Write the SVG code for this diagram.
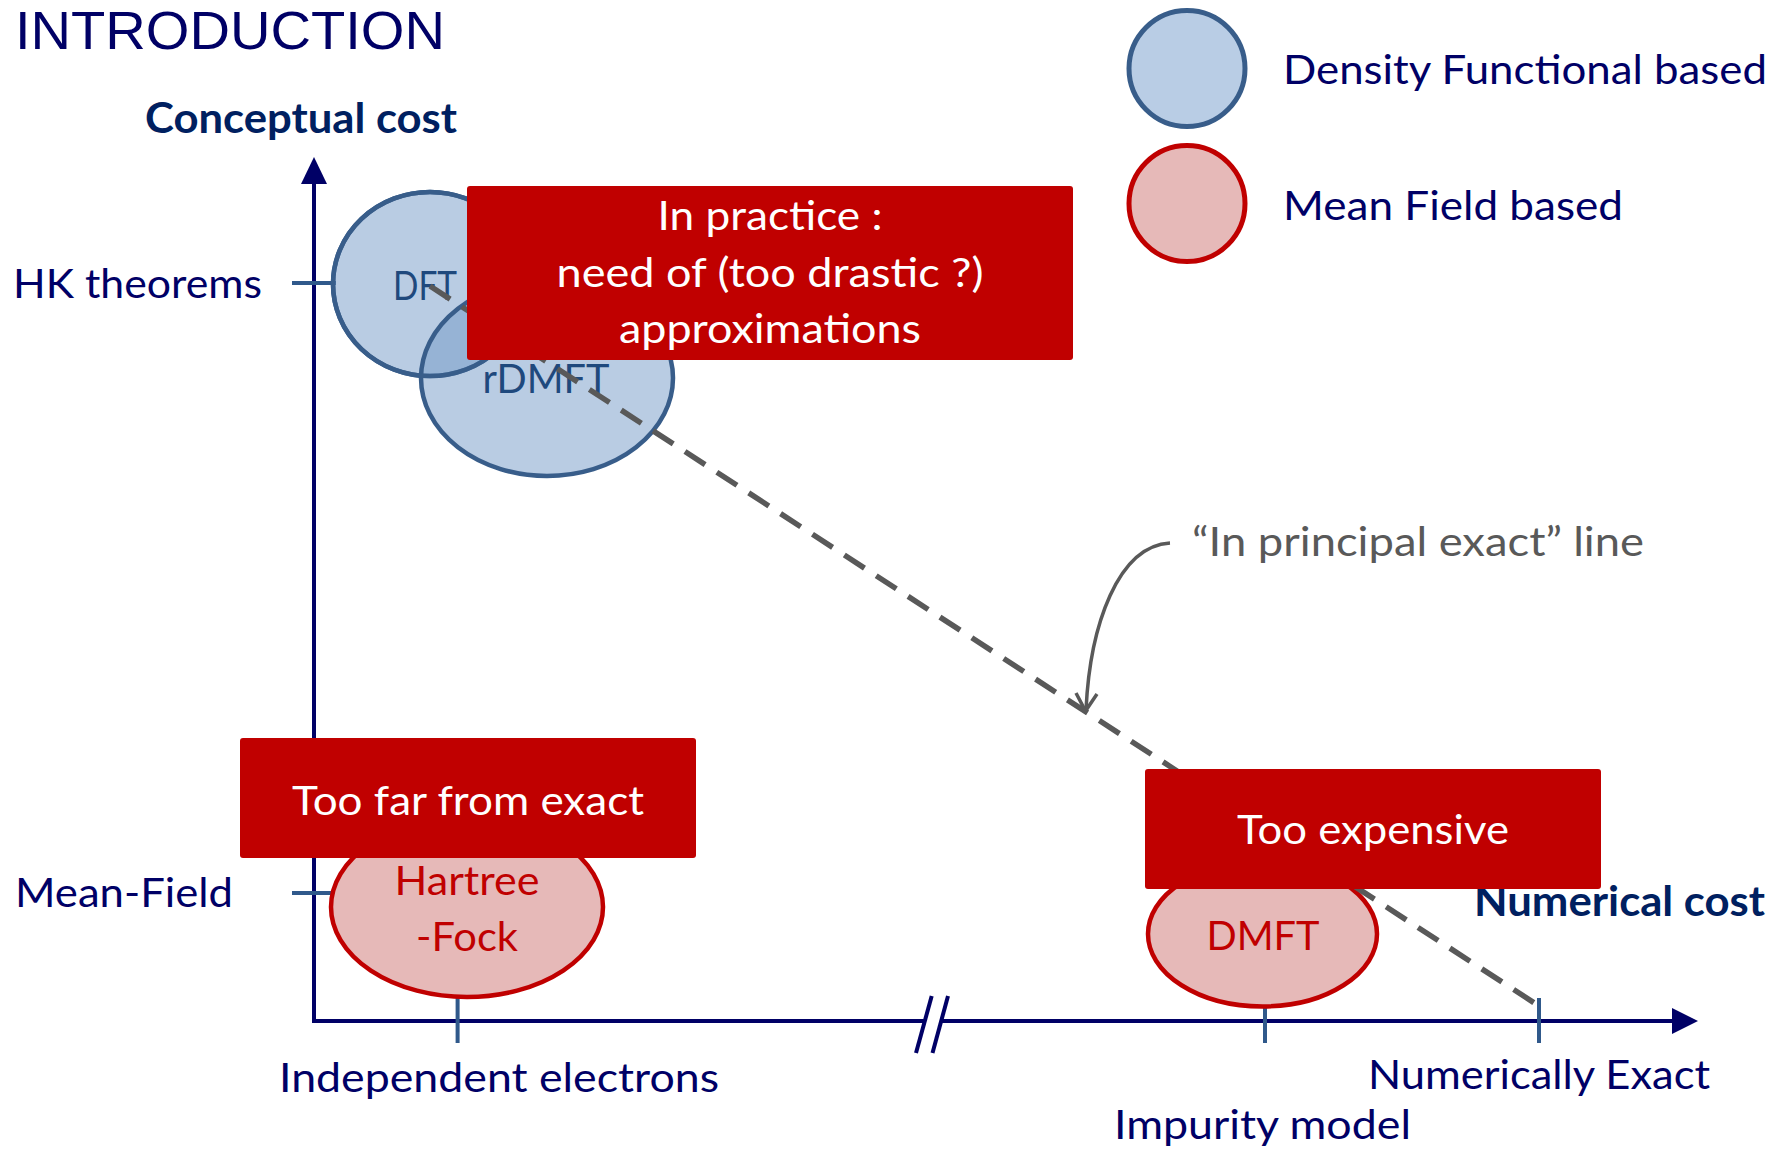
<svg xmlns="http://www.w3.org/2000/svg" width="1775" height="1151" viewBox="0 0 1775 1151">
<style>
.lbl{font-family:Lato,"Open Sans","Liberation Sans",sans-serif;font-size:41px;fill:#000066}
.bold{font-family:Lato,"Open Sans","Liberation Sans",sans-serif;font-size:42px;font-weight:bold;fill:#002060}
.box{fill:#c00000}
.boxt{font-family:Lato,"Open Sans","Liberation Sans",sans-serif;font-size:40px;fill:#ffffff;text-anchor:middle}
.dfe{fill:#7399c8;fill-opacity:0.5;stroke:#385d8a;stroke-width:4.5}
.dft{font-family:Lato,"Open Sans","Liberation Sans",sans-serif;font-size:40px;fill:#1f497d;text-anchor:middle}
.mfe{fill:#e6b9b8;stroke:#c00000;stroke-width:4.5}
.mft{font-family:Lato,"Open Sans","Liberation Sans",sans-serif;font-size:40px;fill:#c00000;text-anchor:middle}
.axis{stroke:#000066;stroke-width:4;fill:none}
.tick{stroke:#30598b;stroke-width:4}
</style>
<rect width="1775" height="1151" fill="#ffffff"/>
<g id="title"><text x="15" y="49" font-family="'Liberation Sans',sans-serif" font-size="54" fill="#000066" textLength="430" lengthAdjust="spacingAndGlyphs">INTRODUCTION</text></g>

<g id="axes">
<line class="axis" x1="314" y1="182" x2="314" y2="1019"/>
<polygon points="314,157 301,184 327,184" fill="#000066"/>
<line class="axis" x1="312" y1="1021" x2="925" y2="1021"/>
<line class="axis" x1="941" y1="1021" x2="1674" y2="1021"/>
<polygon points="1698,1021 1672,1008 1672,1034" fill="#000066"/>
<line class="axis" x1="931.7" y1="996" x2="916" y2="1053"/>
<line class="axis" x1="948" y1="996" x2="932.5" y2="1053"/>
<line class="tick" x1="292" y1="283" x2="336" y2="283"/>
<line class="tick" x1="292" y1="893" x2="336" y2="893"/>
<line class="tick" x1="457.6" y1="998" x2="457.6" y2="1043"/>
<line class="tick" x1="1265" y1="998" x2="1265" y2="1043"/>
<line class="tick" x1="1539" y1="998" x2="1539" y2="1043"/>
<text class="bold" x="145" y="133" textLength="312" lengthAdjust="spacingAndGlyphs">Conceptual cost</text>
<text class="bold" x="1474" y="916" textLength="291" lengthAdjust="spacingAndGlyphs">Numerical cost</text>
<text class="lbl" x="13" y="298" textLength="249" lengthAdjust="spacingAndGlyphs">HK theorems</text>
<text class="lbl" x="15" y="907" textLength="218" lengthAdjust="spacingAndGlyphs">Mean-Field</text>
<text class="lbl" x="279" y="1092" textLength="440" lengthAdjust="spacingAndGlyphs">Independent electrons</text>
<text class="lbl" x="1368" y="1089" textLength="342" lengthAdjust="spacingAndGlyphs">Numerically Exact</text>
<text class="lbl" x="1114" y="1139" textLength="297" lengthAdjust="spacingAndGlyphs">Impurity model</text>
</g>

<g id="legend">
<ellipse cx="1187" cy="68.5" rx="58" ry="58" fill="#b9cde5" stroke="#385d8a" stroke-width="5"/>
<ellipse cx="1187" cy="203.5" rx="58" ry="58" fill="#e6b9b8" stroke="#c00000" stroke-width="5"/>
<text class="lbl" x="1283" y="84" textLength="484" lengthAdjust="spacingAndGlyphs">Density Functional based</text>
<text class="lbl" x="1283" y="220" textLength="340" lengthAdjust="spacingAndGlyphs">Mean Field based</text>
</g>

<g id="node-dft">
<ellipse class="dfe" cx="430" cy="284" rx="97" ry="92"/>
</g>
<g id="node-rdmft">
<ellipse class="dfe" cx="547" cy="378" rx="126" ry="98"/>
<ellipse cx="430" cy="284" rx="97" ry="92" fill="none" stroke="#385d8a" stroke-width="4.5"/>
<text class="dft" x="546" y="393" textLength="127" lengthAdjust="spacingAndGlyphs">rDMFT</text>
</g>
<g id="node-dft-label">
<text class="dft" x="425" y="300" textLength="64" lengthAdjust="spacingAndGlyphs">DFT</text>
</g>
<g id="node-hf">
<ellipse class="mfe" cx="467" cy="907" rx="136" ry="90"/>
<text class="mft" x="467" y="895" textLength="145" lengthAdjust="spacingAndGlyphs">Hartree</text>
<text class="mft" x="467" y="951" textLength="102" lengthAdjust="spacingAndGlyphs">-Fock</text>
</g>
<g id="node-dmft">
<ellipse class="mfe" cx="1262.5" cy="934" rx="114.5" ry="72.5"/>
<text class="mft" x="1263" y="950" textLength="113" lengthAdjust="spacingAndGlyphs">DMFT</text>
</g>

<g id="connectors">
<line x1="430" y1="286" x2="1539" y2="1006" stroke="#595959" stroke-width="5.5" stroke-dasharray="24 14"/>
<path d="M1170,543 C1118,546 1090,625 1086,710" fill="none" stroke="#595959" stroke-width="3.5"/>
<polyline points="1076,693 1085.5,711 1097,694" fill="none" stroke="#595959" stroke-width="3.5"/>
</g>

<g id="node-callout">
<text x="1192" y="556" font-family="Lato,'Open Sans','Liberation Sans',sans-serif" font-size="40" fill="#595959" textLength="452" lengthAdjust="spacingAndGlyphs">“In principal exact” line</text>
</g>

<g id="node-practice">
<rect class="box" x="467" y="186" width="606" height="174" rx="3"/>
<text class="boxt" x="770" y="230" textLength="225" lengthAdjust="spacingAndGlyphs">In practice :</text>
<text class="boxt" x="770" y="287" textLength="427" lengthAdjust="spacingAndGlyphs">need of (too drastic ?)</text>
<text class="boxt" x="770" y="343" textLength="302" lengthAdjust="spacingAndGlyphs">approximations</text>
</g>
<g id="node-toofar">
<rect class="box" x="240" y="738" width="456" height="120" rx="3"/>
<text class="boxt" x="468" y="815" textLength="352" lengthAdjust="spacingAndGlyphs">Too far from exact</text>
</g>
<g id="node-expensive">
<rect class="box" x="1145" y="769" width="456" height="120" rx="3"/>
<text class="boxt" x="1373" y="844" textLength="272" lengthAdjust="spacingAndGlyphs">Too expensive</text>
</g>
</svg>
